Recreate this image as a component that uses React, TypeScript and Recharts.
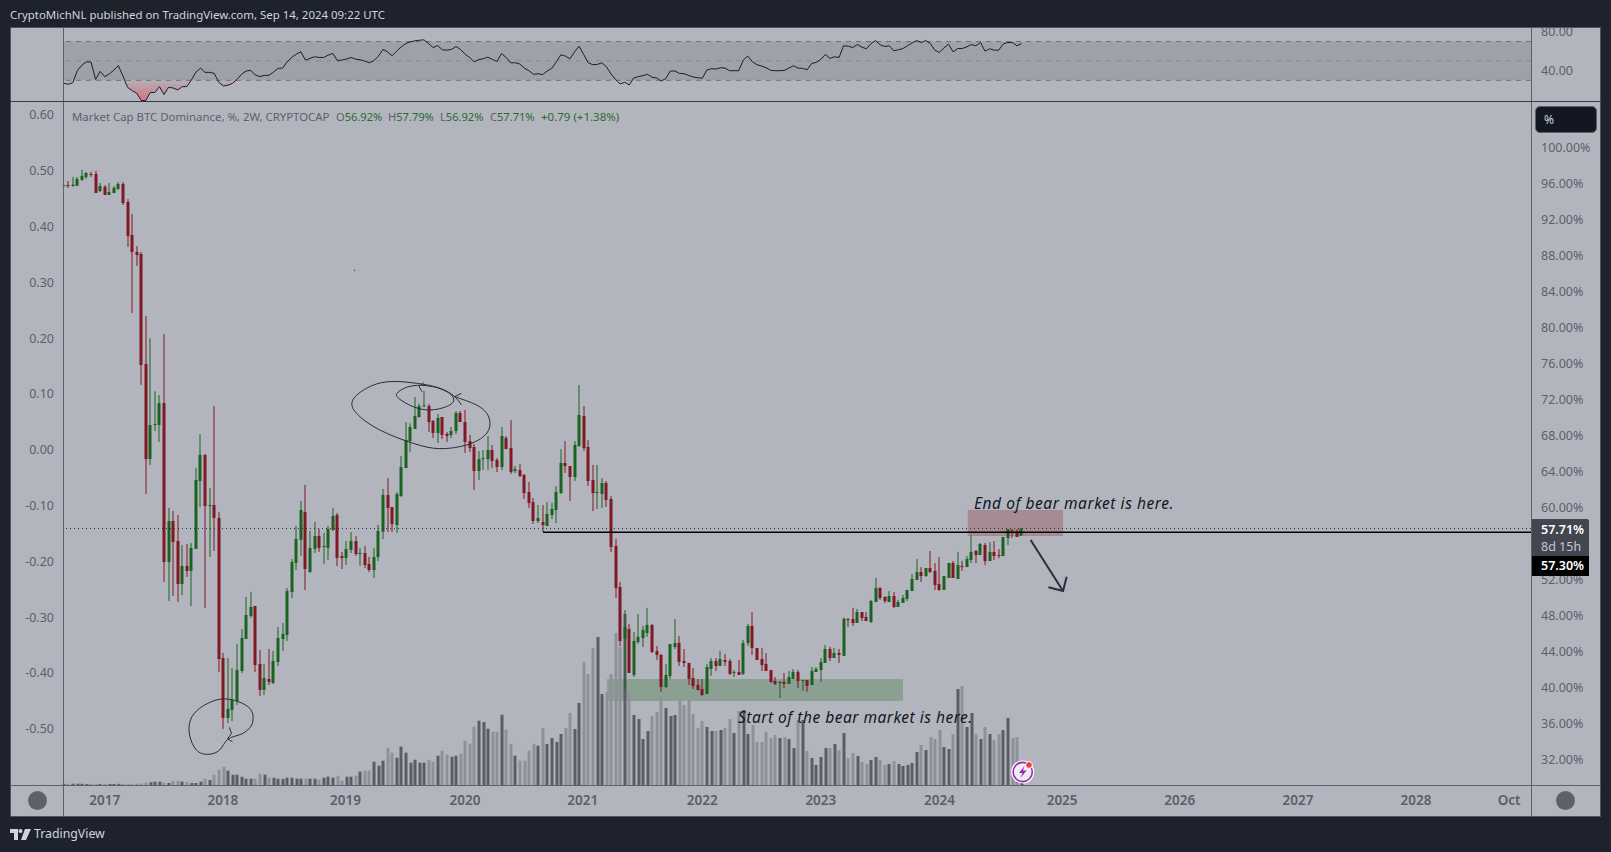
import React from 'react';
import { ComposedChart, Bar, Line, Area, XAxis, YAxis, ReferenceArea, ReferenceLine, ReferenceDot } from 'recharts';

const opens = [
  95.8, 95.89, 95.78, 95.78, 96.45, 96.78, 97.11, 97.11, 95.22, 95.67,
  94.78, 95.0, 95.45, 96.0, 94.0, 90.33, 88.45, 88.22, 76.0, 65.44,
  69.22, 69.22, 71.66, 54.0, 58.56, 56.33, 51.56, 53.56, 53.0, 55.45,
  63.0, 65.89, 60.22, 60.33, 58.89, 43.33, 36.67, 37.55, 38.55, 41.89,
  45.44, 48.0, 49.11, 42.67, 39.78, 41.0, 40.55, 42.89, 45.44, 45.89,
  50.67, 53.89, 56.45, 59.56, 52.89, 55.45, 56.89, 55.67, 55.56, 57.56,
  59.22, 54.67, 54.45, 55.33, 56.33, 54.89, 55.0, 53.78, 53.11, 54.55,
  57.37, 61.44, 60.11, 58.11, 61.33, 64.44, 67.44, 68.78, 70.11, 71.3,
  71.33, 69.66, 68.33, 70.11, 68.22, 68.11, 68.55, 70.55, 69.55, 67.44,
  66.78, 64.11, 65.44, 65.44, 66.44, 65.33, 64.55, 67.78, 66.66, 64.11,
  64.22, 63.66, 61.78, 60.66, 58.55, 58.44, 58.0, 59.22, 59.78, 61.66,
  65.0, 64.66, 63.44, 66.89, 70.22, 66.78, 63.11, 61.66, 61.55, 62.78,
  61.0, 55.78, 51.22, 45.5, 46.56, 41.45, 45.11, 45.56, 46.11, 47.0,
  44.11, 43.67, 40.11, 41.33, 44.56, 45.0, 43.0, 42.78, 41.11, 40.33,
  39.89, 39.33, 42.11, 43.0, 42.45, 43.11, 43.0, 41.67, 41.78, 41.56,
  45.0, 46.89, 44.45, 43.22, 42.67, 42.0, 40.78, 40.56, 40.67, 40.45,
  41.0, 41.78, 40.78, 40.89, 40.33, 41.78, 42.0, 42.78, 44.33, 43.33,
  43.89, 43.56, 47.67, 47.67, 47.22, 48.44, 47.89, 47.33, 49.55, 51.11,
  50.11, 49.55, 50.22, 49.0, 49.45, 49.89, 50.78, 52.0, 52.89, 52.44,
  53.33, 53.0, 51.55, 50.89, 52.22, 53.89, 52.11, 53.55, 53.44, 54.22,
  55.22, 54.78, 55.89, 54.11, 55.11, 54.78, 54.66, 56.66, 57.55, 57.44,
  56.92,
];
const highs = [
  95.9, 96.33, 96.78, 96.78, 97.56, 97.33, 97.33, 97.45, 96.11, 95.89,
  96.11, 95.78, 96.22, 96.22, 94.33, 92.67, 89.11, 88.45, 81.33, 78.85,
  72.96, 72.55, 79.33, 60.0, 59.67, 59.22, 55.89, 56.0, 56.11, 64.45,
  68.22, 66.0, 62.2, 71.33, 59.56, 43.89, 43.33, 42.22, 44.89, 46.55,
  50.11, 50.67, 49.11, 44.22, 42.67, 44.33, 44.11, 46.78, 47.22, 51.11,
  54.33, 58.0, 60.78, 62.56, 57.45, 58.45, 57.67, 57.22, 58.0, 60.0,
  59.45, 55.11, 56.33, 57.33, 56.89, 55.56, 55.78, 54.56, 55.55, 58.11,
  62.11, 63.33, 60.11, 61.78, 65.78, 69.55, 69.4, 72.33, 71.6, 73.0,
  71.55, 69.78, 70.44, 70.11, 68.44, 69.0, 70.78, 70.78, 70.89, 68.11,
  67.1, 66.33, 66.44, 68.0, 67.0, 65.55, 69.0, 68.0, 69.78, 64.66,
  64.88, 63.78, 62.88, 61.11, 60.33, 60.33, 60.66, 60.55, 62.44, 66.55,
  67.44, 64.66, 67.44, 73.66, 71.33, 67.55, 64.78, 64.78, 63.33, 63.0,
  61.33, 56.55, 51.78, 48.66, 47.11, 46.22, 48.22, 46.89, 48.89, 47.1,
  44.67, 43.78, 42.67, 44.89, 47.66, 45.78, 44.33, 42.78, 42.22, 41.0,
  41.0, 42.67, 43.33, 43.33, 44.11, 43.78, 43.22, 42.0, 43.11, 45.33,
  47.11, 48.44, 44.45, 44.45, 43.89, 42.0, 41.22, 40.78, 41.67, 41.89,
  42.11, 42.0, 40.89, 40.89, 42.33, 42.33, 43.33, 44.78, 44.56, 44.45,
  44.33, 47.85, 47.75, 48.89, 48.78, 48.44, 48.44, 49.78, 52.22, 51.2,
  50.2, 50.78, 50.66, 49.78, 50.33, 50.89, 52.66, 54.33, 53.44, 53.33,
  55.22, 53.89, 54.55, 52.44, 53.89, 54.11, 55.11, 54.11, 54.66, 57.0,
  55.33, 56.11, 56.11, 56.2, 56.33, 55.44, 56.78, 57.66, 57.66, 57.66,
  57.79,
];
const lows = [
  95.8, 95.56, 95.67, 95.78, 96.33, 96.56, 96.78, 95.0, 95.11, 94.78,
  94.78, 95.0, 95.33, 93.67, 89.0, 81.67, 86.89, 73.67, 61.55, 64.78,
  68.55, 67.33, 51.78, 49.67, 50.22, 49.56, 50.33, 52.33, 49.11, 55.45,
  60.11, 48.89, 54.56, 55.22, 41.78, 35.44, 36.11, 36.33, 38.11, 41.67,
  45.44, 47.78, 41.78, 39.11, 39.22, 40.33, 40.44, 42.44, 44.11, 45.22,
  50.0, 53.11, 54.67, 50.89, 52.78, 55.0, 55.11, 53.78, 54.22, 57.45,
  53.56, 53.22, 53.67, 55.0, 54.67, 53.56, 53.33, 52.89, 52.22, 54.11,
  56.55, 57.33, 57.33, 57.22, 61.22, 64.44, 66.22, 68.78, 70.0, 71.2,
  68.44, 67.78, 67.22, 67.66, 67.33, 67.78, 68.22, 69.55, 66.11, 66.22,
  62.0, 63.11, 64.22, 64.22, 64.44, 64.0, 64.22, 66.55, 63.78, 63.88,
  63.44, 61.0, 60.0, 58.22, 58.33, 57.33, 58.0, 58.78, 58.33, 61.55,
  63.89, 60.78, 63.0, 66.78, 66.33, 62.44, 59.66, 59.89, 60.0, 60.11,
  55.11, 50.0, 44.66, 39.7, 41.67, 41.22, 44.9, 44.56, 45.67, 43.89,
  43.11, 39.56, 40.0, 41.0, 44.33, 42.45, 42.33, 40.33, 39.89, 39.7,
  39.11, 39.33, 41.33, 41.89, 42.45, 42.45, 41.45, 41.22, 41.45, 41.45,
  44.67, 43.67, 43.11, 41.89, 41.89, 40.56, 40.33, 38.89, 40.0, 40.45,
  41.0, 40.0, 39.67, 39.56, 40.33, 41.78, 40.67, 42.78, 43.0, 43.33,
  42.78, 43.56, 46.78, 46.89, 47.22, 47.44, 47.44, 47.22, 49.55, 49.78,
  49.44, 49.55, 48.89, 49.0, 49.45, 49.66, 50.78, 52.0, 51.78, 52.33,
  52.78, 50.89, 50.78, 50.89, 52.22, 52.22, 52.11, 53.0, 53.44, 53.89,
  53.89, 54.78, 53.66, 54.11, 54.22, 54.44, 54.66, 55.89, 56.66, 56.78,
  56.92,
];
const closes = [
  95.85, 95.78, 95.93, 96.56, 96.89, 97.22, 97.0, 95.0, 95.78, 94.78,
  95.11, 95.56, 96.0, 93.89, 90.22, 88.45, 88.11, 75.89, 65.44, 69.22,
  69.33, 71.66, 54.0, 58.56, 56.22, 51.56, 53.56, 53.0, 55.56, 63.11,
  65.89, 60.22, 60.33, 58.89, 43.22, 36.67, 37.67, 38.67, 42.0, 45.55,
  48.11, 49.0, 42.55, 39.78, 41.11, 40.67, 43.0, 45.55, 46.0, 50.78,
  54.0, 56.56, 59.78, 53.22, 55.56, 56.89, 55.56, 55.78, 57.67, 59.11,
  54.45, 54.45, 55.45, 56.33, 54.89, 55.0, 53.67, 53.11, 54.55, 57.44,
  61.44, 60.0, 58.22, 61.55, 64.55, 67.55, 69.0, 70.22, 71.33, 71.4,
  69.55, 68.33, 70.0, 68.11, 68.0, 68.55, 70.55, 69.55, 67.33, 66.66,
  64.11, 65.44, 65.55, 66.44, 65.22, 64.55, 68.0, 66.55, 64.0, 64.33,
  63.55, 61.66, 60.55, 58.55, 58.88, 58.11, 59.33, 59.89, 61.78, 65.0,
  64.66, 63.44, 67.0, 70.33, 66.66, 63.0, 61.66, 61.78, 62.78, 60.89,
  55.66, 51.11, 45.22, 46.78, 41.67, 45.22, 45.67, 46.45, 47.0, 44.0,
  43.67, 40.11, 41.45, 44.89, 45.0, 42.89, 42.78, 41.0, 40.22, 39.78,
  39.22, 42.33, 43.0, 42.45, 43.22, 42.89, 41.56, 41.78, 41.45, 45.0,
  46.89, 44.45, 43.11, 42.56, 41.89, 40.67, 40.45, 40.67, 40.45, 41.22,
  41.78, 40.78, 40.89, 40.22, 41.89, 42.11, 42.89, 44.33, 43.33, 43.89,
  43.67, 47.67, 47.55, 47.22, 48.44, 47.78, 47.44, 49.66, 51.11, 50.0,
  49.66, 50.22, 49.0, 49.55, 50.0, 50.89, 52.11, 52.89, 52.44, 53.33,
  52.89, 51.44, 50.89, 52.44, 53.89, 52.22, 53.66, 53.44, 54.33, 55.11,
  54.78, 56.0, 54.11, 55.11, 54.66, 54.66, 56.78, 57.66, 57.44, 56.78,
  57.71,
];

// volume has no printed scale, so these are relative units
const volumes = [
  1.0, 1.2, 1.3, 1.3, 1.2, 1.0, 1.0, 1.2, 1.0, 1.2,
  1.0, 1.0, 1.2, 1.0, 1.0, 1.0, 1.2, 1.5, 2.3, 2.7,
  3.3, 3.3, 2.3, 2.0, 3.7, 4.3, 3.3, 3.0, 2.0, 2.0,
  3.3, 6.3, 5.0, 10.3, 15.3, 18.3, 14.3, 10.3, 10.3, 8.3,
  6.3, 6.3, 6.3, 11.3, 10.3, 7.3, 7.3, 6.3, 6.0, 7.3,
  7.3, 6.3, 6.3, 6.3, 6.3, 6.3, 5.3, 7.3, 8.3, 7.3,
  9.3, 4.3, 8.3, 8.3, 9.3, 13.3, 14.3, 14.3, 23.3, 19.3,
  24.3, 37.3, 32.3, 27.3, 38.3, 32.3, 22.3, 25.3, 22.3, 22.3,
  25.3, 23.3, 29.3, 34.3, 30.3, 28.3, 29.3, 31.3, 44.3, 41.3,
  58.3, 64.3, 63, 56.3, 53.3, 53.3, 70.3, 55.3, 41.3, 29.3,
  24.3, 24.3, 34.3, 41.3, 39.3, 57, 41, 47, 43, 51,
  57, 72, 56, 82, 123, 111, 137, 148, 91, 93,
  111, 152, 138, 171, 93, 70, 66, 46, 54, 69,
  73, 89, 77, 69, 70, 85, 80, 85, 71, 57,
  64, 58, 54, 54, 55, 57, 66, 52, 74, 75,
  51, 60, 43, 43, 53, 47, 50, 47, 48, 46,
  37, 65, 65, 34, 27, 20, 28, 37, 37, 41,
  35, 52, 27, 32, 29, 23, 21, 25, 28, 25,
  20, 21, 24, 21, 19, 20, 22, 33, 40, 35,
  48, 46, 55, 38, 36, 51, 96, 99, 58, 72,
  51, 46, 58, 51, 45, 51, 55, 67, 47, 48,
  2,
];

const rsi = [
  26.9, 25.9, 27.6, 39.9, 45.7, 49.1, 48.8, 31.0, 39.2, 33.8,
  36.5, 40.6, 45.0, 34.4, 22.8, 19.4, 16.7, 9.1, 9.1, 17.4,
  17.4, 23.5, 15.3, 22.8, 22.1, 20.1, 23.5, 23.5, 30.3, 38.5,
  42.6, 38.2, 38.2, 37.2, 28.0, 24.2, 24.9, 26.9, 31.0, 36.2,
  39.6, 40.3, 35.5, 33.8, 35.1, 35.1, 38.5, 42.3, 42.6, 49.1,
  53.6, 57.0, 59.4, 50.9, 52.6, 54.3, 53.6, 53.6, 56.0, 57.7,
  50.5, 50.9, 51.9, 53.6, 51.9, 51.2, 49.8, 48.1, 50.2, 55.0,
  61.8, 59.4, 55.3, 60.1, 64.5, 67.9, 69.7, 70.7, 71.4, 71.7,
  67.9, 63.8, 65.9, 61.5, 61.1, 61.8, 64.9, 61.8, 57.0, 53.6,
  49.1, 51.5, 52.2, 53.9, 51.5, 49.5, 57.7, 53.6, 48.1, 48.1,
  46.8, 42.6, 39.9, 36.2, 36.8, 35.8, 39.6, 42.3, 49.1, 56.3,
  55.0, 52.2, 59.4, 65.2, 56.7, 48.1, 46.1, 46.4, 48.1, 44.0,
  36.5, 31.0, 26.2, 28.0, 25.2, 32.4, 33.8, 34.8, 36.2, 33.1,
  32.4, 29.3, 31.7, 39.6, 39.6, 37.2, 36.8, 35.1, 33.4, 32.7,
  32.1, 40.6, 42.0, 41.6, 43.0, 42.6, 39.9, 39.9, 39.9, 50.9,
  55.0, 49.1, 46.1, 44.7, 43.0, 40.3, 39.9, 39.9, 40.3, 42.6,
  45.0, 42.6, 42.3, 40.9, 47.4, 48.5, 51.5, 56.7, 52.6, 54.3,
  53.6, 65.6, 65.2, 63.8, 66.9, 64.2, 62.5, 67.9, 71.0, 66.6,
  64.9, 65.6, 60.4, 61.5, 62.8, 65.6, 68.6, 71.0, 69.0, 71.0,
  67.9, 61.1, 58.7, 63.5, 67.3, 59.4, 62.8, 62.8, 64.5, 66.9,
  65.6, 69.0, 60.1, 62.5, 61.1, 61.1, 67.6, 69.0, 69.0, 65.6,
  67.9,
];

const priceTicks = [100, 96, 92, 88, 84, 80, 76, 72, 68, 64, 60, 52, 48, 44, 40, 36, 32];
const leftTicks = [0.6, 0.5, 0.4, 0.3, 0.2, 0.1, 0, -0.1, -0.2, -0.3, -0.4, -0.5];
const rsiTicks = [80, 40];
const timeTicks = [9, 34.9, 61.8, 88, 113.8, 140, 166, 192, 218.9, 244.7, 270.6, 296.5, 316.9];
const timeLabels = ['2017', '2018', '2019', '2020', '2021', '2022', '2023', '2024', '2025', '2026', '2027', '2028', 'Oct'];

// hand drawn marks as [bar, price]
const bigRing = [[85.7, 72.37], [90.5, 71.44], [93.0, 70.33], [93.4, 69.03], [92.0, 67.92], [88.3, 67.0], [82.5, 66.59], [76.6, 67.19], [69.3, 68.67], [64.2, 70.52], [63.4, 72.0], [66.4, 73.3], [71.1, 74.03], [77.3, 73.86], [82.5, 73.3], [85.7, 72.37], [87.2, 71.44]];
const bigRingHead = [[87.2, 72.74], [85.7, 72.37]];
const smallRing = [[81.7, 73.41], [84.6, 72.74], [85.5, 71.92], [83.9, 71.26], [80.3, 70.89], [76.6, 71.26], [73.7, 72.08], [73.1, 72.74], [75.2, 73.41], [78.4, 73.63], [81.7, 73.41]];
const smallRingHead = [[78.9, 73.92], [77.9, 73.48], [78.6, 72.92]];
const lowRing = [[41.5, 37.0], [41.2, 35.89], [39.0, 34.89], [36.0, 34.3], [34.2, 33.11], [31.6, 32.63], [29.1, 33.11], [27.6, 34.78], [27.8, 36.44], [29.8, 37.74], [33.5, 38.67], [37.1, 38.67], [40.4, 37.93], [41.5, 37.0]];
const lowRingHead = [[36.3, 35.63], [36.8, 34.97], [35.9, 34.34], [37.0, 34.04]];
const downArrow = [[212.0, 56.44], [219.1, 50.78]];
const downArrowHead = [[215.9, 51.19], [219.1, 50.78], [219.9, 52.37]];

const X_DOMAIN: [number, number] = [-0.15, 321.7];
const BG = '#b2b5be';
const FRAME = '#1e222d';
const AXIS_TEXT = '#5d606b';
const GREEN = '#1a621f';
const RED = '#801923';
const FONT = '"Noto Sans", sans-serif';

const candles = opens.map((open, i) => ({
  t: i, open, high: highs[i], low: lows[i], close: closes[i], volume: volumes[i], rsi: rsi[i],
  range: [lows[i], highs[i]],
  oversold: [Math.min(rsi[i], 30), 30],
}));

const toPoints = (list: number[][]) => list.map(([t, v]) => ({ t, v }));

const Candle = (props: any) => {
  const { x, y, width, height, payload } = props;
  const { open, close, high, low } = payload;
  const unit = high > low ? height / (high - low) : 0;
  const color = close >= open ? GREEN : RED;
  const cx = Math.round(x + width / 2);
  const bodyTop = y + (high - Math.max(open, close)) * unit;
  const bodyH = Math.max(1, Math.abs(open - close) * unit);
  return (
    <g>
      <rect x={cx - 0.5} y={y} width={1} height={Math.max(height, 1)} fill={color} />
      <rect x={cx - 1.5} y={bodyTop} width={3} height={bodyH} fill={color} />
    </g>
  );
};

const VolumeBar = (props: any) => {
  const { x, y, width, height, payload } = props;
  return (
    <rect
      x={Math.round(x + width / 2) - 1.5}
      y={y}
      width={3}
      height={height}
      fill={payload.close >= payload.open ? '#5c5d63' : '#8f9199'}
    />
  );
};

const sketch = (name: string, points: number[][], type = 'linear', width = 1) => (
  <Line
    key={name}
    data={toPoints(points)}
    xAxisId="main"
    yAxisId="price"
    dataKey="v"
    name={name}
    type={type as any}
    stroke="#2a2e39"
    strokeWidth={width}
    dot={false}
    activeDot={false}
    isAnimationActive={false}
    legendType="none"
  />
);

const Label = ({ x, y, color, size = 12, weight = 400, style, children }: any) => (
  <div style={{ position: 'absolute', left: x, top: y, color, fontSize: size, fontWeight: weight, lineHeight: '16px', whiteSpace: 'nowrap', ...style }}>
    {children}
  </div>
);

export default function App() {
  return (
    <div style={{ position: 'fixed', left: 0, top: 0, width: 1611, height: 852, background: FRAME, overflow: 'hidden', fontFamily: FONT }}>
      <Label x={10} y={7} color="#d1d4dc" size={11.45}>
        CryptoMichNL published on TradingView.com, Sep 14, 2024 09:22 UTC
      </Label>

      {/* pane frame */}
      <div style={{ position: 'absolute', left: 10, top: 27, width: 1591, height: 790, background: BG, boxShadow: 'inset 0 0 0 1px #50535e' }} />

      {/* rsi pane */}
      <div style={{ position: 'absolute', left: 10, top: 27 }}>
        <ComposedChart width={1591} height={74} data={candles} margin={{ top: 0, right: 0, bottom: 0, left: 0 }}>
          <defs>
            <linearGradient id="oversoldFill" x1="0" y1="0" x2="0" y2="1">
              <stop offset="0%" stopColor="#f23645" stopOpacity={0.05} />
              <stop offset="100%" stopColor="#f23645" stopOpacity={0.9} />
            </linearGradient>
          </defs>
          <XAxis dataKey="t" type="number" domain={X_DOMAIN} hide />
          <YAxis yAxisId="left" orientation="left" width={53} domain={[8.66, 85]} allowDataOverflow ticks={[]} axisLine={false} tickLine={false} />
          <YAxis
            orientation="right"
            width={70}
            domain={[8.66, 85]}
            allowDataOverflow
            ticks={rsiTicks}
            interval={0}
            tickFormatter={(v) => v.toFixed(2)}
            tick={{ fill: AXIS_TEXT, fontSize: 12.5, fontFamily: FONT }}
            tickLine={false}
            tickSize={0}
            tickMargin={10}
            axisLine={false}
          />
          <ReferenceArea y1={30} y2={70} fill="#9ea1a9" fillOpacity={1} stroke="none" />
          <ReferenceLine y={70} stroke="#6f717a" strokeDasharray="5 5" />
          <ReferenceLine y={50} stroke="#888a92" strokeDasharray="5 5" />
          <ReferenceLine y={30} stroke="#6f717a" strokeDasharray="5 5" />
          <Area dataKey="oversold" type="linear" fill="url(#oversoldFill)" stroke="none" dot={false} activeDot={false} isAnimationActive={false} />
          <Line dataKey="rsi" type="linear" stroke="#1c1e26" strokeWidth={1} dot={false} activeDot={false} isAnimationActive={false} />
        </ComposedChart>
      </div>

      {/* price pane */}
      <div style={{ position: 'absolute', left: 10, top: 101 }}>
        <ComposedChart width={1591} height={716} data={candles} margin={{ top: 0, right: 0, bottom: 0, left: 0 }}>
          <XAxis
            xAxisId="main"
            dataKey="t"
            type="number"
            domain={X_DOMAIN}
            ticks={timeTicks}
            interval={0}
            tickFormatter={(v) => timeLabels[timeTicks.indexOf(v)]}
            tick={{ fill: '#5b5d68', fontSize: 13.5, fontWeight: 600, fontFamily: FONT }}
            tickLine={false}
            tickSize={0}
            tickMargin={10}
            height={32}
            axisLine={false}
          />
          <XAxis xAxisId="vol" dataKey="t" type="number" domain={X_DOMAIN} hide />
          <YAxis
            yAxisId="left"
            orientation="left"
            width={53}
            domain={[-0.6007, 0.6248]}
            allowDataOverflow
            ticks={leftTicks}
            interval={0}
            tickFormatter={(v) => v.toFixed(2)}
            tick={{ fill: AXIS_TEXT, fontSize: 12.5, fontFamily: FONT }}
            tickLine={false}
            tickSize={0}
            tickMargin={9}
            axisLine={false}
          />
          <YAxis
            yAxisId="price"
            orientation="right"
            width={70}
            domain={[29.22, 105.22]}
            ticks={priceTicks}
            interval={0}
            tickFormatter={(v) => `${v.toFixed(2)}%`}
            tick={{ fill: AXIS_TEXT, fontSize: 12.5, fontFamily: FONT }}
            tickLine={false}
            tickSize={0}
            tickMargin={10}
            axisLine={false}
          />
          <YAxis yAxisId="vol" orientation="right" width={0} domain={[0, 684]} hide />

          <Bar xAxisId="vol" yAxisId="vol" dataKey="volume" barSize={3} shape={<VolumeBar />} isAnimationActive={false} />
          <Bar xAxisId="main" yAxisId="price" dataKey="range" barSize={3} shape={<Candle />} isAnimationActive={false} />

          <ReferenceLine xAxisId="main" yAxisId="price" y={57.71} stroke="#2a2e39" strokeDasharray="1 3" />
          <ReferenceLine
            xAxisId="main"
            yAxisId="price"
            segment={[{ x: 105.1, y: 57.31 }, { x: 321.7, y: 57.31 }]}
            stroke="#000000"
            strokeWidth={1.4}
          />
          <ReferenceArea xAxisId="main" yAxisId="price" x1={198.2} x2={219.1} y1={56.89} y2={59.78} fill="#8a2c39" fillOpacity={0.3} stroke="none" />
          <ReferenceArea xAxisId="main" yAxisId="price" x1={119.1} x2={184.0} y1={38.56} y2={41.0} fill="#336c32" fillOpacity={0.3} stroke="none" />
          <ReferenceDot xAxisId="main" yAxisId="price" x={63.8} y={86.4} r={0.6} fill="#2a2e39" stroke="none" />

          {sketch('bigRing', bigRing, 'natural')}
          {sketch('bigRingHead', bigRingHead)}
          {sketch('smallRing', smallRing, 'natural')}
          {sketch('smallRingHead', smallRingHead)}
          {sketch('lowRing', lowRing, 'natural')}
          {sketch('lowRingHead', lowRingHead)}
          {sketch('downArrow', downArrow, 'linear', 2)}
          {sketch('downArrowHead', downArrowHead, 'linear', 2)}
        </ComposedChart>
      </div>

      {/* pane dividers */}
      <div style={{ position: 'absolute', left: 63, top: 27, width: 1, height: 790, background: '#5d606b' }} />
      <div style={{ position: 'absolute', left: 1531, top: 27, width: 1, height: 790, background: '#5d606b' }} />
      <div style={{ position: 'absolute', left: 10, top: 101, width: 1591, height: 1, background: '#363a45' }} />
      <div style={{ position: 'absolute', left: 10, top: 785, width: 1591, height: 1, background: '#5d606b' }} />

      {/* legend */}
      <Label x={72} y={109} color={AXIS_TEXT} size={11.4}>Market Cap BTC Dominance, %, 2W, CRYPTOCAP</Label>
      {[['O', '56.92%', 336], ['H', '57.79%', 388], ['L', '56.92%', 440], ['C', '57.71%', 490]].map(([k, v, x]) => (
        <Label key={k as string} x={x} y={109} color="#2c6b2f" size={11.1}>
          <span style={{ color: AXIS_TEXT }}>{k}</span>{v}
        </Label>
      ))}
      <Label x={541} y={109} color="#2c6b2f" size={11.5}>+0.79 (+1.38%)</Label>

      {/* notes */}
      <Label x={974} y={494} color="#131722" size={15.5} style={{ fontStyle: 'italic', lineHeight: '18px', letterSpacing: 0.55 }}>End of bear market is here.</Label>
      <Label x={738} y={708} color="#131722" size={15.5} style={{ fontStyle: 'italic', lineHeight: '18px', letterSpacing: 0.5 }}>Start of the bear market is here.</Label>

      {/* price scale tags */}
      <div style={{ position: 'absolute', left: 1535, top: 106, width: 62, height: 27, boxSizing: 'border-box', background: '#131722', border: '1px solid #5d606b', borderRadius: 5, color: '#d1d4dc', fontSize: 12, lineHeight: '25px', paddingLeft: 8 }}>%</div>
      <div style={{ position: 'absolute', left: 1532, top: 519, width: 57, height: 37, background: '#434651', borderRadius: '0 2px 0 0', color: '#fff', fontSize: 12.5, fontWeight: 600, lineHeight: '17px', paddingLeft: 9, boxSizing: 'border-box', paddingTop: 2 }}>
        57.71%
        <div style={{ color: '#c5c7ce', fontWeight: 400 }}>8d 15h</div>
      </div>
      <div style={{ position: 'absolute', left: 1532, top: 556, width: 57, height: 20, background: '#000', color: '#fff', fontSize: 12.5, fontWeight: 600, lineHeight: '20px', paddingLeft: 9, boxSizing: 'border-box' }}>57.30%</div>

      {/* scroll buttons */}
      <div style={{ position: 'absolute', left: 28, top: 791, width: 19, height: 19, borderRadius: '50%', background: '#5e616a' }} />
      <div style={{ position: 'absolute', left: 1556, top: 791, width: 19, height: 19, borderRadius: '50%', background: '#5e616a' }} />

      {/* news badge */}
      <svg style={{ position: 'absolute', left: 1010, top: 758 }} width={28} height={28} viewBox="0 0 28 28">
        <circle cx={12.7} cy={14} r={11.5} fill="#ffffff" />
        <circle cx={12.7} cy={14} r={9.6} fill="#eceef2" stroke="#9c27b0" strokeWidth={1.6} />
        <path d="M14.5 8 L9 15 L12.5 15 L10.5 20 L16.5 12.5 L13 12.5 Z" fill="#9c27b0" />
        <circle cx={19} cy={7} r={3.4} fill="#f23645" stroke="#ffffff" strokeWidth={1} />
      </svg>

      {/* footer logo */}
      <svg style={{ position: 'absolute', left: 10, top: 829 }} width={21} height={11} viewBox="0 0 21 11">
        <path d="M0 0 H8 V11 H4 V4 H0 Z" fill="#d1d4dc" />
        <circle cx={10.5} cy={2} r={2} fill="#d1d4dc" />
        <path d="M15 0 H21 L16 11 H11 Z" fill="#d1d4dc" />
      </svg>
      <Label x={34} y={826} color="#d1d4dc" size={12.3}>TradingView</Label>
    </div>
  );
}
